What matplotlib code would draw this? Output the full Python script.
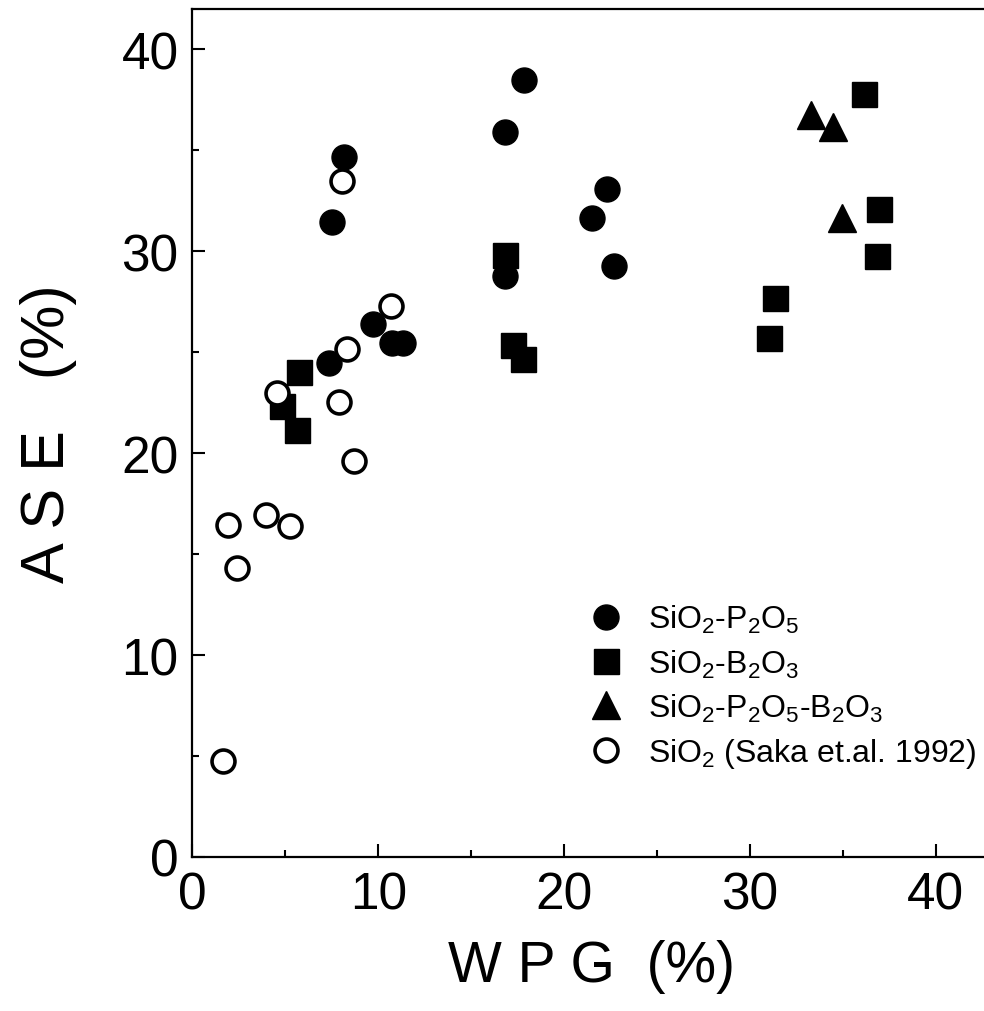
import matplotlib
matplotlib.use('Agg')
import matplotlib.pyplot as plt
from matplotlib.ticker import MultipleLocator

plt.rcParams['font.family'] = ['Liberation Sans', 'DejaVu Sans']
plt.rcParams['mathtext.fontset'] = 'custom'
plt.rcParams['mathtext.rm'] = 'Liberation Sans'
plt.rcParams['mathtext.it'] = 'Liberation Sans:italic'
plt.rcParams['mathtext.bf'] = 'Liberation Sans:bold'

# SiO2-P2O5 (filled circles)
sp_wpg = [8.15, 7.53, 7.35, 9.70, 10.75, 11.35, 17.84, 16.82, 16.82, 22.29, 21.48, 22.69]
sp_ase = [34.67, 31.45, 24.44, 26.4, 25.45, 25.45, 38.48, 35.9, 28.78, 33.07, 31.66, 29.26]

# SiO2-B2O3 (filled squares)
sb_wpg = [5.73, 4.83, 5.64, 16.82, 17.23, 17.8, 31.37, 31.01, 36.16, 36.97, 36.86]
sb_ase = [24.04, 22.34, 21.14, 29.8, 25.36, 24.65, 27.66, 25.68, 37.77, 32.08, 29.77]

# SiO2-P2O5-B2O3 (filled triangles)
spb_wpg = [33.27, 34.46, 34.97]
spb_ase = [36.77, 36.15, 31.65]

# SiO2 (Saka et.al. 1992) (open circles)
s_wpg = [8.05, 10.67, 8.33, 4.53, 7.90, 8.69, 1.93, 3.96, 5.25, 2.41, 1.62]
s_ase = [33.48, 27.3, 25.15, 22.97, 22.54, 19.62, 16.43, 16.93, 16.4, 14.3, 4.74]

fig = plt.figure(figsize=(9.84, 10.12), dpi=100)
ax = fig.add_axes([0.1956, 0.1522, 0.812, 0.838])

ax.plot(sp_wpg, sp_ase, 'o', color='black', ms=18, mew=1, label='SiO$_2$-P$_2$O$_5$', zorder=3)
ax.plot(sb_wpg, sb_ase, 's', color='black', ms=18, mew=1, label='SiO$_2$-B$_2$O$_3$', zorder=3)
ax.plot(spb_wpg, spb_ase, '^', color='black', ms=20, mew=1, label='SiO$_2$-P$_2$O$_5$-B$_2$O$_3$', zorder=3)
ax.plot(s_wpg, s_ase, 'o', mfc='white', mec='black', ms=16.5, mew=2.6,
        label='SiO$_2$ (Saka et.al. 1992)', zorder=4)

ax.set_xlim(0, 43)
ax.set_ylim(0, 42)
ax.xaxis.set_major_locator(MultipleLocator(10))
ax.xaxis.set_minor_locator(MultipleLocator(5))
ax.yaxis.set_major_locator(MultipleLocator(10))
ax.yaxis.set_minor_locator(MultipleLocator(5))
ax.tick_params(which='both', direction='in', width=1.5, top=False, right=False)
ax.tick_params(which='major', length=9.5, labelsize=37, pad=10)
ax.tick_params(which='minor', length=5)
for s in ax.spines.values():
    s.set_linewidth(1.6)

ax.set_xlabel('W P G  (%)', fontsize=41, labelpad=14)
ax.set_ylabel('A S E   (%)', fontsize=44, labelpad=32)

leg = ax.legend(loc='upper left', bbox_to_anchor=(0.5996, 0.403), bbox_transform=fig.transFigure,
                frameon=False, fontsize=23, handlelength=1.0, handletextpad=0.8,
                labelspacing=0.38, borderpad=0, borderaxespad=0, numpoints=1)

fig.savefig('out.png', dpi=100)
